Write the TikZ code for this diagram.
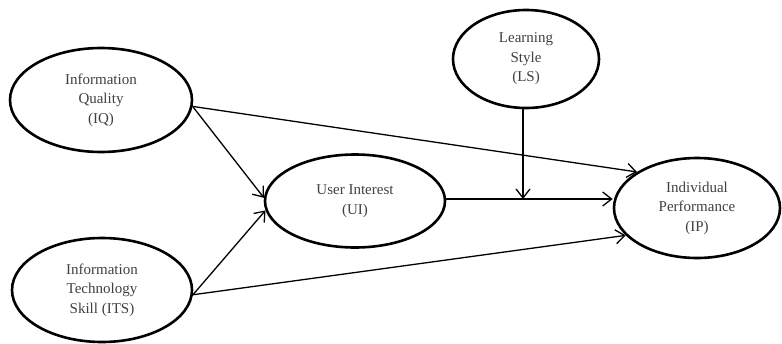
\documentclass[tikz,border=0pt]{standalone}
\usepackage{fontspec}
\setmainfont{Liberation Serif}
\usetikzlibrary{shapes.geometric,arrows.meta}
\begin{document}
\begin{tikzpicture}[x=1pt,y=-1pt,
  construct/.style={draw=black,line width=2.6pt,ellipse,inner sep=0pt,align=center,
    text=black!75,font=\fontsize{15}{19.5}\selectfont},
  path/.style={line width=1.3pt,-{Straight Barb[length=9pt,width=14pt,line width=1.3pt]}},
  ]
\useasboundingbox (0,0) rectangle (782,343);
\node[construct,minimum width=182pt,minimum height=104pt] (IQ) at (101,100) {Information\\Quality\\(IQ)};
\node[construct,minimum width=180pt,minimum height=104pt] (ITS) at (102,290) {Information\\Technology\\Skill (ITS)};
\node[construct,minimum width=180pt,minimum height=93pt] (UI) at (355,201) {User Interest\\(UI)};
\node[construct,minimum width=146pt,minimum height=98pt] (LS) at (526,59) {Learning\\Style\\(LS)};
\node[construct,minimum width=166pt,minimum height=100pt] (IP) at (697,208) {Individual\\Performance\\(IP)};
\coordinate (M) at (523,199);
\draw[path] (IQ.-4) -- (UI.178);
\draw[path] (IQ.-4) -- (IP.149);
\draw[path] (ITS.-3) -- (UI.186);
\draw[path] (ITS.-3) -- (IP.201);
\draw[path] (UI.east |- M) -- (M -| IP.west);
\draw[path] (LS.south -| M) -- (M);
\end{tikzpicture}
\end{document}
